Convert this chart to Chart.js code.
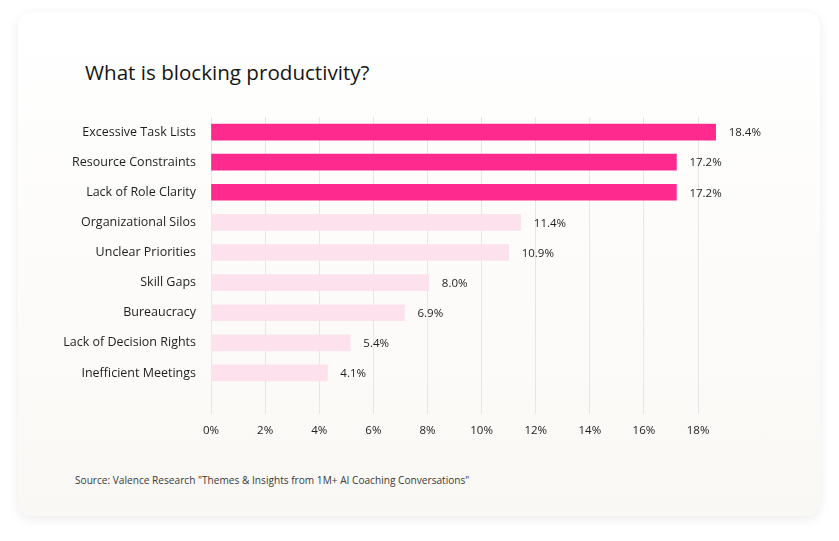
<!DOCTYPE html>
<html>
<head>
<meta charset="utf-8">
<script src="https://cdn.jsdelivr.net/npm/chart.js@4"></script>
<style>
  html, body { margin: 0; padding: 0; background: #ffffff; width: 839px; height: 541px; overflow: hidden; }
  .card {
    position: absolute; left: 18px; top: 12px; width: 802px; height: 504px;
    border-radius: 14px;
    background: linear-gradient(180deg, #ffffff 0%, #fcfbf9 60%, #f9f8f5 100%);
    box-shadow: 0 3px 12px rgba(0,0,0,0.08);
  }
  .title {
    position: absolute; left: 85px; top: 58px; margin: 0;
    font-family: "Open Sans", Lato, sans-serif; font-size: 20.6px; font-weight: 400; color: #151515;
    white-space: nowrap;
  }
  .source {
    position: absolute; left: 75px; top: 473px; margin: 0;
    font-family: "Open Sans", Lato, sans-serif; font-size: 10.15px; color: #3a3a3a;
    white-space: nowrap;
  }
  #wrap { position: absolute; left: 0; top: 0; width: 839px; height: 541px; }
</style>
</head>
<body>
<div class="card"></div>
<div class="title">What is blocking productivity?</div>
<div class="source">Source: Valence Research "Themes &amp; Insights from 1M+ AI Coaching Conversations"</div>
<div id="wrap"><canvas id="c" width="839" height="541"></canvas></div>
<script>
const categories = [
  "Excessive Task Lists", "Resource Constraints", "Lack of Role Clarity",
  "Organizational Silos", "Unclear Priorities", "Skill Gaps",
  "Bureaucracy", "Lack of Decision Rights", "Inefficient Meetings"
];
// bar lengths as drawn in the picture (percent)
const barValues = [18.65, 17.2, 17.2, 11.45, 11.0, 8.05, 7.15, 5.15, 4.3];
// value labels shown next to each bar
const valueLabels = ["18.4%", "17.2%", "17.2%", "11.4%", "10.9%", "8.0%", "6.9%", "5.4%", "4.1%"];
const highlightCount = 3;
const xTickValues = [0, 2, 4, 6, 8, 10, 12, 14, 16, 18];

const DARK = "#ff2a8e";
const LIGHT = "#fde2ee";
const FONT = "'Open Sans', Lato, sans-serif";

const labelPlugin = {
  id: "valueLabels",
  afterDatasetsDraw(chart) {
    const ctx = chart.ctx;
    const meta = chart.getDatasetMeta(0);
    ctx.save();
    ctx.font = "11.5px " + FONT;
    ctx.fillStyle = "#1e1e1e";
    ctx.textAlign = "left";
    ctx.textBaseline = "middle";
    meta.data.forEach((bar, i) => {
      ctx.fillText(valueLabels[i], bar.x + 13, bar.y + 1);
    });
    ctx.restore();
  }
};

new Chart(document.getElementById("c"), {
  type: "bar",
  data: {
    labels: categories,
    datasets: [{
      data: barValues,
      backgroundColor: barValues.map((v, i) => i < highlightCount ? DARK : LIGHT),
      borderWidth: 0,
      barThickness: 16
    }]
  },
  options: {
    indexAxis: "y",
    responsive: false,
    animation: false,
    devicePixelRatio: 1,
    layout: { padding: { left: 0, right: 122, top: 117, bottom: 93 } },
    plugins: { legend: { display: false }, tooltip: { enabled: false } },
    scales: {
      x: {
        type: "linear",
        min: 0,
        max: 18.7,
        afterBuildTicks: (scale) => { scale.ticks = xTickValues.map(v => ({ value: v })); },
        afterFit: (scale) => { scale.height = 60; },
        grid: { color: "#e8e6e4", lineWidth: 1, tickLength: 26, drawTicks: true },
        border: { display: false },
        ticks: {
          padding: 10,
          color: "#222",
          font: { family: FONT, size: 11.5 },
          callback: (v) => v + "%"
        }
      },
      y: {
        afterFit: (scale) => { scale.width = 211; },
        grid: { display: false, drawTicks: false },
        border: { display: false },
        ticks: {
          padding: 15,
          color: "#1e1e1e",
          font: { family: FONT, size: 12.5 }
        }
      }
    }
  },
  plugins: [labelPlugin]
});
</script>
</body>
</html>
